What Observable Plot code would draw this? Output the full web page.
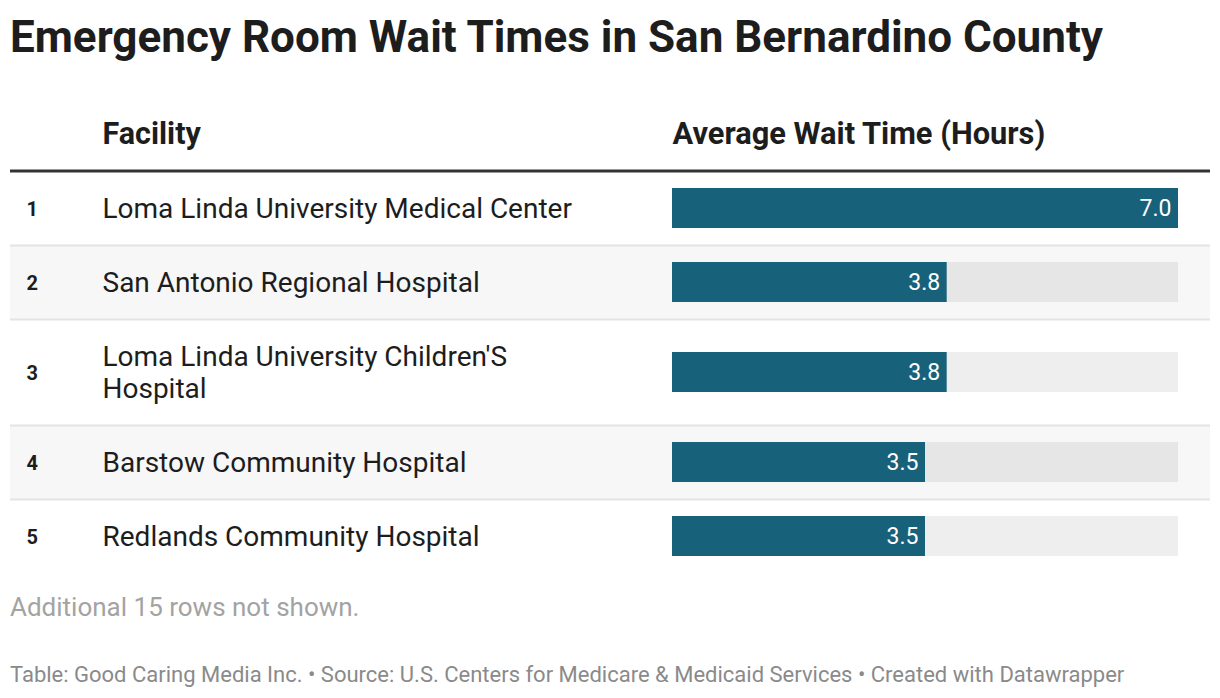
<!DOCTYPE html>
<html>
<head>
<meta charset="utf-8">
<script src="https://cdn.jsdelivr.net/npm/d3@7"></script>
<script src="https://cdn.jsdelivr.net/npm/@observablehq/plot@0.6"></script>
<style>
  html, body { margin: 0; padding: 0; background: #fff; }
  body { width: 1220px; height: 698px; font-family: Roboto, sans-serif; color: #1d1d1d; position: relative; overflow: hidden; }
  #title { position: absolute; left: 10px; top: 11px; font-size: 44px; font-weight: 700; line-height: 52px; white-space: nowrap; }
  #chart { position: absolute; left: 0; top: 80px; }
  #note { position: absolute; left: 10px; top: 592px; font-size: 26px; line-height: 30px; color: #a3a3a3; white-space: nowrap; }
  #footer { position: absolute; left: 10px; top: 662px; font-size: 22px; line-height: 26px; color: #8a8a8a; white-space: nowrap; }
</style>
</head>
<body>
<div id="title">Emergency Room Wait Times in San Bernardino County</div>
<div id="chart"></div>
<div id="note">Additional 15 rows not shown.</div>
<div id="footer">Table: Good Caring Media Inc. • Source: U.S. Centers for Medicare &amp; Medicaid Services • Created with Datawrapper</div>
<script>
// ---- data ----
const ranks = [1, 2, 3, 4, 5];
const facilities = [
  "Loma Linda University Medical Center",
  "San Antonio Regional Hospital",
  "Loma Linda University Children'S Hospital",
  "Barstow Community Hospital",
  "Redlands Community Hospital"
];
const waitHours = [7.0, 3.8, 3.8, 3.5, 3.5];
const headers = ["Facility", "Average Wait Time (Hours)"];
const maxHours = 7.0;

// ---- layout helpers ----
const nameSize = 28;
const canvas = document.createElement("canvas");
const ctx = canvas.getContext("2d");
ctx.font = nameSize + "px Roboto";
function wrap(text, maxW) {
  const words = text.split(" ");
  const lines = [];
  let cur = "";
  for (const w of words) {
    const t = cur ? cur + " " + w : w;
    if (ctx.measureText(t).width > maxW && cur) { lines.push(cur); cur = w; }
    else cur = t;
  }
  if (cur) lines.push(cur);
  return lines;
}
const baseRowH = 74, extraLineH = 32;
let acc = 0;
const rows = ranks.map((r, i) => {
  const lines = wrap(facilities[i], 490);
  const h = baseRowH + extraLineH * (lines.length - 1);
  const row = {rank: r, name: facilities[i], label: lines.join("\n"), value: waitHours[i],
               top: acc, bottom: acc + h, mid: acc + h / 2, striped: i % 2 === 1};
  acc += h;
  return row;
});
const total = acc;
const marginTop = 91, marginBottom = 7;
const height = marginTop + total + marginBottom;
const barHalf = 20;

const chart = Plot.plot({
  width: 1220,
  height,
  marginTop, marginBottom, marginLeft: 10, marginRight: 10,
  x: {domain: [0, maxHours], range: [672, 1178], axis: null},
  y: {domain: [0, total], range: [marginTop, marginTop + total], axis: null},
  style: {fontFamily: "Roboto, sans-serif", background: "transparent"},
  marks: [
    Plot.rect(rows.filter(d => d.striped), {y1: "top", y2: "bottom", fill: "#f7f7f7"}),
    Plot.ruleY(rows.slice(1), {y: "top", stroke: "#e4e4e4", strokeWidth: 2}),
    Plot.ruleY([0], {stroke: "#333333", strokeWidth: 3, dy: -0.5}),
    Plot.rect(rows, {x1: 0, x2: maxHours, y1: d => d.mid - barHalf, y2: d => d.mid + barHalf,
                     fill: d => d.striped ? "#e6e6e6" : "#eeeeee"}),
    Plot.rect(rows, {x1: 0, x2: "value", y1: d => d.mid - barHalf, y2: d => d.mid + barHalf, fill: "#17627a"}),
    Plot.text(rows, {x: "value", y: "mid", text: d => d.value.toFixed(1), textAnchor: "end", dx: -7,
                     fill: "white", fontSize: 23, dy: 0}),
    Plot.text(rows, {y: "mid", text: d => String(d.rank), frameAnchor: "left", textAnchor: "start", dx: 16,
                     fontSize: 20, fontWeight: 700, fill: "#1d1d1d", dy: 1}),
    Plot.text(rows, {y: "mid", text: "label", frameAnchor: "left", textAnchor: "start", dx: 92,
                     fontSize: nameSize, lineHeight: 1.15, fill: "#1d1d1d", dy: -1}),
    Plot.text([headers[0]], {text: d => d, frameAnchor: "top-left", textAnchor: "start", lineAnchor: "bottom",
                             dx: 92, dy: -28, fontSize: 30.5, fontWeight: 700, fill: "#1d1d1d"}),
    Plot.text([headers[1]], {x: 0, text: d => d, frameAnchor: "top", textAnchor: "start", lineAnchor: "bottom",
                             dy: -28, fontSize: 30.8, fontWeight: 700, fill: "#1d1d1d"})
  ]
});
document.getElementById("chart").appendChild(chart);
</script>
</body>
</html>
